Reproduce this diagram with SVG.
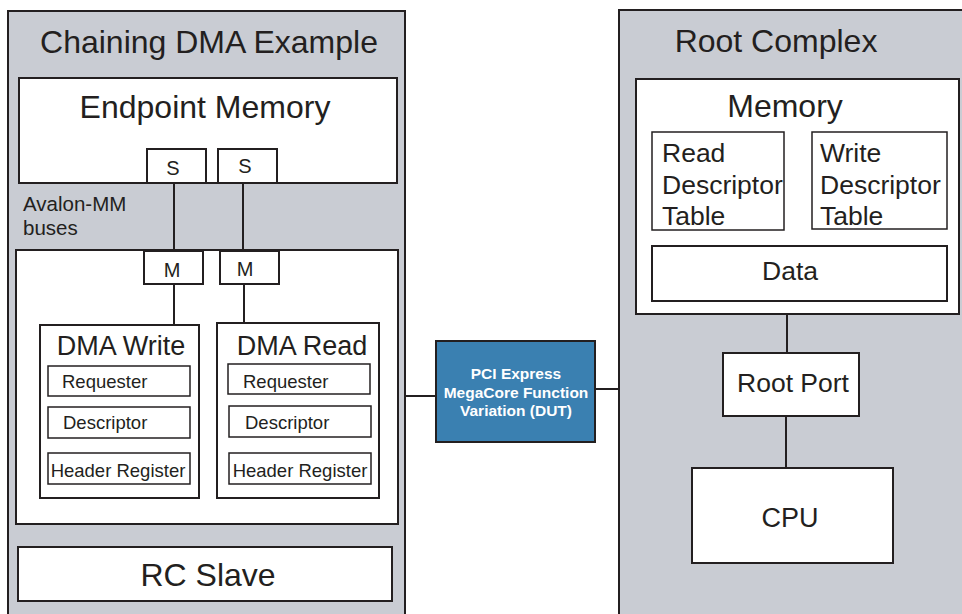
<svg xmlns="http://www.w3.org/2000/svg" width="962" height="614" viewBox="0 0 962 614">
<style>
.panel{fill:#c9ccd3;stroke:#231f20;stroke-width:2}
.box{fill:#fff;stroke:#231f20;stroke-width:2}
.sub{fill:#fff;stroke:#231f20;stroke-width:1.5}
.dut{fill:#3a80b1;stroke:#231f20;stroke-width:2}
.ln{stroke:#231f20;stroke-width:2;fill:none}
text{font-family:"Liberation Sans",Arial,sans-serif;fill:#231f20}
.big{font-size:32px}
.mid{font-size:26.5px}
.dma{font-size:27px}
.sm{font-size:18.5px}
.sm2{font-size:20px}
.av{font-size:20.5px}
.w{fill:#fff;font-weight:bold;font-size:15.5px}
</style>
<g id="chaining-dma">
<rect class="panel" x="8" y="11" width="397" height="610"/>
<text class="big" x="209" y="53" text-anchor="middle">Chaining DMA Example</text>
<text class="av" x="23" y="211">Avalon-MM</text>
<text class="av" x="23" y="235">buses</text>
</g>
<g id="endpoint-memory">
<rect class="box" x="19" y="78" width="378" height="105"/>
<text class="big" x="205" y="118" text-anchor="middle">Endpoint Memory</text>
</g>
<g id="s1"><rect class="box" x="147" y="149" width="59" height="34"/><text class="sm2" x="173" y="175" text-anchor="middle">S</text></g>
<g id="s2"><rect class="box" x="218" y="149" width="59" height="34"/><text class="sm2" x="245" y="173" text-anchor="middle">S</text></g>
<g id="dma-container"><rect class="box" x="16" y="250" width="382" height="274"/></g>
<g id="m1"><rect class="box" x="144" y="251" width="59" height="33"/><text class="sm2" x="172" y="277" text-anchor="middle">M</text></g>
<g id="m2"><rect class="box" x="220" y="251" width="59" height="33"/><text class="sm2" x="245" y="276" text-anchor="middle">M</text></g>
<g id="dma-write">
<rect class="box" x="40" y="325" width="159" height="173"/>
<text class="dma" x="121" y="355" text-anchor="middle">DMA Write</text>
<rect class="sub" x="48" y="366" width="142" height="30"/><text class="sm" x="62" y="388">Requester</text>
<rect class="sub" x="48" y="407" width="142" height="31"/><text class="sm" x="63" y="429">Descriptor</text>
<rect class="sub" x="48" y="453" width="142" height="31"/><text class="sm" x="118" y="477" text-anchor="middle">Header Register</text>
</g>
<g id="dma-read">
<rect class="box" x="217" y="323" width="162" height="175"/>
<text class="dma" x="302" y="355" text-anchor="middle">DMA Read</text>
<rect class="sub" x="228" y="364" width="142" height="30"/><text class="sm" x="243" y="388">Requester</text>
<rect class="sub" x="229" y="406" width="142" height="31"/><text class="sm" x="245" y="429">Descriptor</text>
<rect class="sub" x="229" y="453" width="142" height="31"/><text class="sm" x="300" y="477" text-anchor="middle">Header Register</text>
</g>
<g id="rc-slave">
<rect class="box" x="18" y="547" width="374" height="54"/>
<text class="big" x="208" y="586" text-anchor="middle">RC Slave</text>
</g>
<g id="root-complex">
<rect class="panel" x="619" y="10" width="360" height="620"/>
<text class="big" x="776" y="52" text-anchor="middle">Root Complex</text>
</g>
<g id="memory">
<rect class="box" x="636" y="79" width="323" height="235"/>
<text class="big" x="785" y="117" text-anchor="middle">Memory</text>
</g>
<g id="read-descriptor-table">
<rect class="sub" x="652" y="132" width="132" height="98"/>
<text class="mid" x="662" y="162">Read</text>
<text class="mid" x="662" y="194">Descriptor</text>
<text class="mid" x="662" y="225">Table</text>
</g>
<g id="write-descriptor-table">
<rect class="sub" x="812" y="132" width="135" height="97"/>
<text class="mid" x="820" y="162">Write</text>
<text class="mid" x="820" y="194">Descriptor</text>
<text class="mid" x="820" y="225">Table</text>
</g>
<g id="data">
<rect class="box" x="652" y="246" width="295" height="55"/>
<text class="mid" x="790" y="280" text-anchor="middle">Data</text>
</g>
<g id="root-port">
<rect class="box" x="723" y="353" width="136" height="63"/>
<text class="mid" x="793" y="392" text-anchor="middle">Root Port</text>
</g>
<g id="cpu">
<rect class="box" x="692" y="468" width="201" height="95"/>
<text class="dma" x="790" y="527" text-anchor="middle">CPU</text>
</g>
<g id="dut">
<rect class="dut" x="436" y="341" width="159" height="101"/>
<text class="w" x="516" y="379" text-anchor="middle">PCI Express</text>
<text class="w" x="516" y="398" text-anchor="middle">MegaCore Function</text>
<text class="w" x="516" y="416" text-anchor="middle">Variation (DUT)</text>
</g>
<g id="connectors">
<line class="ln" x1="174" y1="183" x2="174" y2="251"/>
<line class="ln" x1="243" y1="183" x2="243" y2="251"/>
<line class="ln" x1="174" y1="284" x2="174" y2="325"/>
<line class="ln" x1="244" y1="284" x2="244" y2="323"/>
<line class="ln" x1="405" y1="396" x2="436" y2="396"/>
<line class="ln" x1="595" y1="389" x2="619" y2="389"/>
<line class="ln" x1="787" y1="314" x2="787" y2="353"/>
<line class="ln" x1="786" y1="416" x2="786" y2="468"/>
</g>
</svg>
